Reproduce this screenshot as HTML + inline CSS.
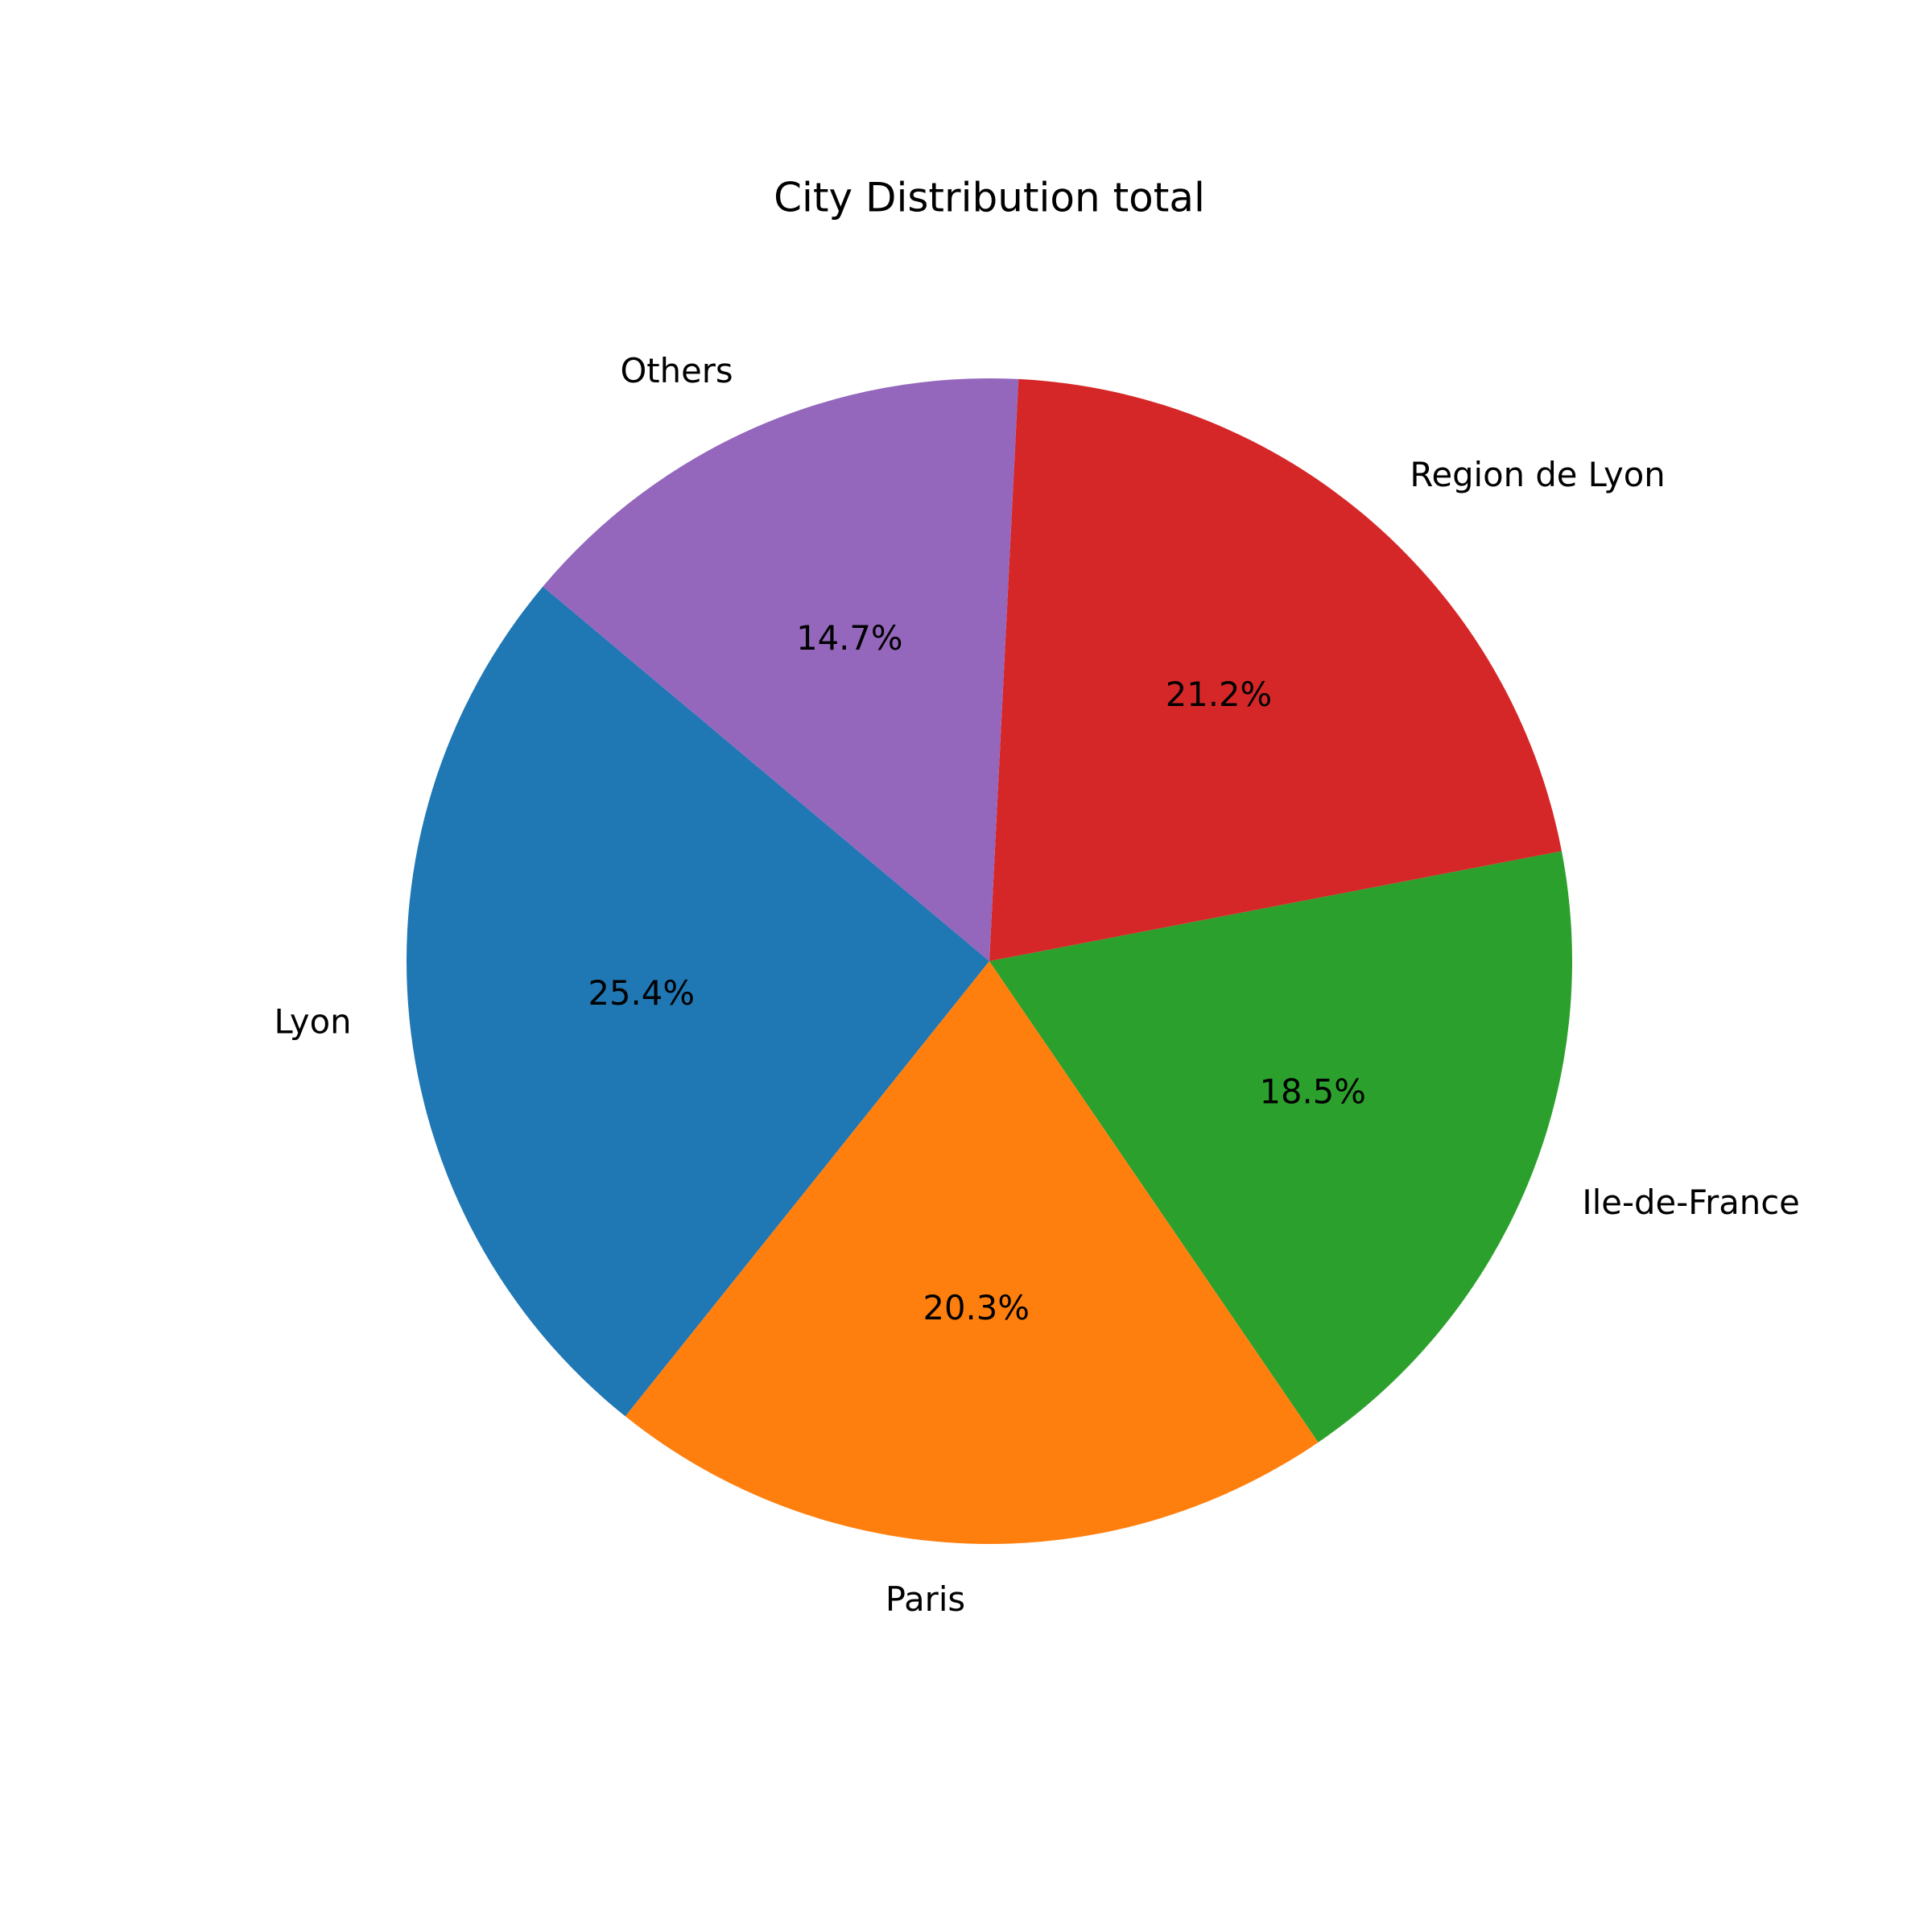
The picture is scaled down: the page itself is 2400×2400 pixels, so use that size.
<!DOCTYPE html>
<html><head><meta charset="utf-8"><style>
html,body{margin:0;padding:0;background:#fff;}
svg{display:block;font-family:"DejaVu Sans","Liberation Sans",sans-serif;}
</style></head><body>
<svg id="chart" width="2400" height="2400" viewBox="0 0 2400 2400">
<rect width="2400" height="2400" fill="#fff"/>
<text x="1229" y="249" font-size="50" text-anchor="middle" dominant-baseline="middle" fill="#000">City Distribution total</text>
<g id="slices"></g>
</svg>
<script>
const categories = ["Lyon", "Paris", "Ile-de-France", "Region de Lyon", "Others"];
const values = [25.4, 20.3, 18.5, 21.2, 14.7];
const colors = ["#1f77b4", "#ff7f0e", "#2ca02c", "#d62728", "#9467bd"];
const cx = 1229, cy = 1194, r = 724, startAngle = 140;
const g = document.getElementById('slices');
const NS = "http://www.w3.org/2000/svg";
const total = values.reduce((a, b) => a + b, 0);
function pt(deg, rad) { const a = deg * Math.PI / 180; return [cx + rad * Math.cos(a), cy - rad * Math.sin(a)]; }
let ang = startAngle;
values.forEach((v, i) => {
  const sweep = v / total * 360;
  const a1 = ang, a2 = ang + sweep;
  const p1 = pt(a1, r), p2 = pt(a2, r);
  const large = sweep > 180 ? 1 : 0;
  const path = document.createElementNS(NS, 'path');
  path.setAttribute('d', `M${cx},${cy} L${p1[0]},${p1[1]} A${r},${r} 0 ${large} 0 ${p2[0]},${p2[1]} Z`);
  path.setAttribute('fill', colors[i]);
  
  
  g.appendChild(path);
  const mid = (a1 + a2) / 2;
  const lp = pt(mid, r * 1.1);
  const lab = document.createElementNS(NS, 'text');
  lab.setAttribute('x', lp[0]); lab.setAttribute('y', lp[1]);
  lab.setAttribute('font-size', '41.7');
  lab.setAttribute('dominant-baseline', 'middle');
  lab.setAttribute('text-anchor', Math.cos(mid * Math.PI / 180) > 0 ? 'start' : 'end');
  lab.textContent = categories[i];
  
  
  g.appendChild(lab);
  const pp = pt(mid, r * 0.6);
  const pc = document.createElementNS(NS, 'text');
  pc.setAttribute('x', pp[0]); pc.setAttribute('y', pp[1]);
  pc.setAttribute('font-size', '41.7');
  pc.setAttribute('dominant-baseline', 'middle');
  pc.setAttribute('text-anchor', 'middle');
  pc.textContent = (v / total * 100).toFixed(1) + '%';
  
  
  g.appendChild(pc);
  ang = a2;
});
</script>
</body></html>
